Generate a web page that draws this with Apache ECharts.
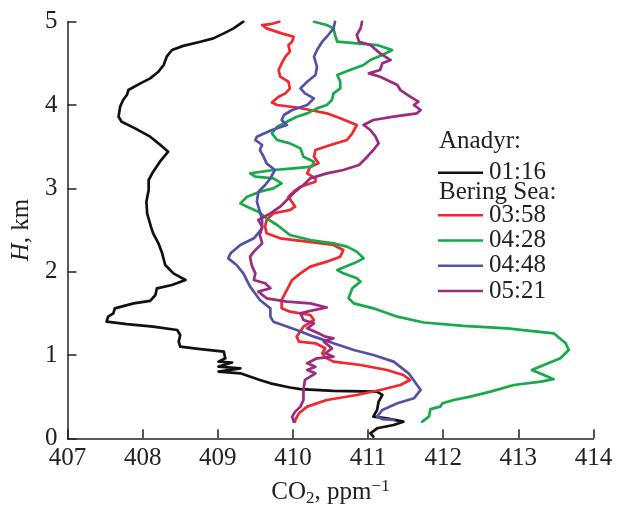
<!DOCTYPE html>
<html>
<head>
<meta charset="utf-8">
<script src="https://cdn.jsdelivr.net/npm/echarts@6/dist/echarts.min.js"></script>
<style>
  html, body { margin: 0; padding: 0; background: #fff; }
  #chart { width: 619px; height: 513px; }
</style>
</head>
<body>
<div id="chart"></div>
<script>
// CO2 vertical profiles: each point is [CO2, ppm ; height H, km]
const profile0116 = [
  [409.34,5.00],[409.21,4.92],[409.08,4.86],[408.94,4.80],[408.77,4.76],[408.54,4.71],[408.39,4.66],
  [408.32,4.58],[408.28,4.48],[408.21,4.40],[408.10,4.32],[407.97,4.26],[407.81,4.18],[407.79,4.12],
  [407.74,4.06],[407.70,3.98],[407.68,3.86],[407.72,3.80],[407.90,3.72],[408.10,3.62],[408.21,3.54],
  [408.34,3.44],[408.23,3.32],[408.14,3.20],[408.08,3.10],[408.08,2.98],[408.05,2.84],[408.06,2.70],
  [408.11,2.54],[408.14,2.46],[408.21,2.34],[408.26,2.22],[408.30,2.08],[408.41,1.98],[408.57,1.90],
  [408.39,1.84],[408.19,1.80],[408.17,1.72],[408.10,1.65],[407.88,1.62],[407.63,1.56],[407.61,1.50],
  [407.54,1.46],[407.52,1.40],[407.79,1.37],[408.14,1.34],[408.46,1.30],[408.50,1.24],[408.48,1.16],
  [408.50,1.10],[408.77,1.07],[409.08,1.04],[409.10,0.96],[409.01,0.92],[409.19,0.91],[409.01,0.86],
  [409.30,0.84],[409.01,0.80],[409.30,0.78],[409.56,0.70],[409.70,0.66],[409.96,0.61],[410.10,0.59],
  [410.54,0.57],[411.12,0.56],[411.19,0.52],[411.14,0.44],[411.12,0.34],[411.07,0.26],[411.25,0.24],
  [411.47,0.20],[411.34,0.16],[411.12,0.12],[411.03,0.06],[411.07,0.02]
];

const profile0358 = [
  [409.82,5.00],[409.70,4.97],[409.59,4.96],[409.65,4.92],[409.85,4.86],[410.01,4.82],[409.99,4.76],
  [409.94,4.72],[409.96,4.64],[409.90,4.58],[409.85,4.50],[409.81,4.42],[409.83,4.34],[409.94,4.28],
  [409.96,4.20],[409.90,4.14],[409.81,4.10],[409.72,4.03],[409.79,4.00],[410.05,3.97],[410.23,3.94],
  [410.45,3.90],[410.63,3.84],[410.85,3.76],[410.79,3.66],[410.72,3.58],[410.50,3.52],[410.30,3.46],
  [410.28,3.38],[410.34,3.30],[410.23,3.26],[410.19,3.18],[410.30,3.12],[410.30,3.08],[410.10,3.02],
  [410.01,2.96],[409.94,2.90],[410.03,2.78],[409.96,2.74],[409.74,2.70],[409.65,2.62],[409.63,2.54],
  [409.65,2.46],[409.83,2.40],[410.19,2.36],[410.54,2.32],[410.67,2.26],[410.63,2.18],[410.45,2.12],
  [410.23,2.06],[410.10,1.98],[409.99,1.90],[409.92,1.78],[409.85,1.66],[409.85,1.56],[409.96,1.52],
  [410.23,1.48],[410.28,1.42],[410.14,1.34],[410.05,1.22],[410.08,1.16],[410.30,1.14],[410.43,1.08],
  [410.39,1.02],[410.43,0.97],[410.54,0.92],[410.90,0.88],[411.25,0.82],[411.47,0.76],[411.56,0.70],
  [411.43,0.64],[411.16,0.58],[410.85,0.52],[410.45,0.46],[410.19,0.38],[410.08,0.30],[410.03,0.22],
  [410.03,0.20]
];

const profile0428 = [
  [410.28,5.00],[410.45,4.96],[410.54,4.92],[410.56,4.84],[410.59,4.76],[410.85,4.74],[411.12,4.72],
  [411.32,4.66],[411.19,4.60],[411.03,4.54],[410.94,4.48],[410.76,4.42],[410.59,4.36],[410.63,4.28],
  [410.63,4.20],[410.54,4.14],[410.52,4.06],[410.45,4.00],[410.32,3.96],[410.19,3.90],[410.05,3.86],
  [409.92,3.80],[409.79,3.74],[409.72,3.66],[409.79,3.58],[409.96,3.54],[410.10,3.48],[410.14,3.38],
  [410.28,3.32],[410.25,3.26],[410.01,3.24],[409.74,3.22],[409.43,3.18],[409.50,3.14],[409.74,3.12],
  [409.85,3.06],[409.74,3.00],[409.56,2.96],[409.39,2.90],[409.30,2.82],[409.39,2.78],[409.54,2.72],
  [409.65,2.64],[409.79,2.56],[409.96,2.44],[410.23,2.38],[410.54,2.34],[410.72,2.30],[410.85,2.24],
  [410.94,2.16],[410.81,2.10],[410.59,2.02],[410.67,1.98],[410.85,1.92],[410.90,1.88],[410.79,1.80],
  [410.74,1.68],[410.81,1.62],[411.07,1.56],[411.39,1.46],[411.74,1.39],[412.27,1.35],[412.85,1.32],
  [413.47,1.26],[413.63,1.14],[413.67,1.06],[413.56,0.96],[413.34,0.88],[413.18,0.82],[413.34,0.76],
  [413.47,0.71],[413.30,0.68],[412.94,0.64],[412.63,0.56],[412.36,0.50],[412.14,0.46],[411.99,0.42],
  [411.96,0.38],[411.83,0.35],[411.81,0.26],[411.72,0.20]
];

const profile0448 = [
  [410.56,5.00],[410.54,4.92],[410.47,4.84],[410.39,4.76],[410.32,4.66],[410.28,4.58],[410.32,4.46],
  [410.30,4.36],[410.19,4.28],[410.10,4.20],[410.16,4.14],[410.28,4.08],[410.19,4.00],[409.99,3.94],
  [409.88,3.88],[409.85,3.82],[409.92,3.76],[409.72,3.70],[409.52,3.62],[409.50,3.58],[409.59,3.52],
  [409.56,3.46],[409.61,3.38],[409.65,3.30],[409.76,3.22],[409.70,3.12],[409.63,3.04],[409.54,2.96],
  [409.52,2.84],[409.56,2.72],[409.59,2.62],[409.59,2.52],[409.48,2.40],[409.30,2.32],[409.17,2.22],
  [409.14,2.16],[409.25,2.08],[409.34,1.98],[409.43,1.82],[409.56,1.66],[409.70,1.56],[409.70,1.46],
  [409.74,1.40],[410.05,1.30],[410.28,1.22],[410.54,1.14],[410.81,1.06],[411.07,1.00],[411.34,0.92],
  [411.54,0.78],[411.70,0.58],[411.61,0.48],[411.39,0.42],[411.19,0.34],[411.12,0.26],[411.19,0.23],
  [411.34,0.22]
];

const profile0521 = [
  [410.92,5.00],[410.90,4.92],[410.85,4.84],[410.88,4.76],[411.03,4.72],[411.16,4.62],[411.30,4.54],
  [411.19,4.50],[411.16,4.42],[411.01,4.38],[411.16,4.34],[411.39,4.24],[411.43,4.18],[411.56,4.10],
  [411.67,4.04],[411.61,4.00],[411.70,3.94],[411.65,3.90],[411.34,3.86],[411.07,3.82],[410.94,3.76],
  [411.03,3.70],[411.10,3.62],[411.14,3.54],[411.07,3.46],[410.99,3.38],[410.88,3.28],[410.67,3.22],
  [410.45,3.18],[410.23,3.12],[410.14,3.04],[410.03,2.96],[409.92,2.86],[409.83,2.78],[409.70,2.70],
  [409.54,2.62],[409.59,2.54],[409.56,2.44],[409.59,2.34],[409.48,2.24],[409.43,2.18],[409.45,2.08],
  [409.50,1.98],[409.48,1.90],[409.63,1.86],[409.70,1.80],[409.54,1.76],[409.65,1.68],[409.92,1.64],
  [410.23,1.62],[410.45,1.57],[410.23,1.53],[410.10,1.50],[410.14,1.42],[410.28,1.38],[410.19,1.32],
  [410.34,1.26],[410.43,1.22],[410.54,1.20],[410.41,1.16],[410.52,1.08],[410.43,1.02],[410.54,0.98],
  [410.32,0.96],[410.19,0.90],[410.30,0.86],[410.19,0.82],[410.30,0.78],[410.16,0.70],[410.14,0.58],
  [410.14,0.46],[410.10,0.38],[410.03,0.32],[409.99,0.26],[410.01,0.20]
];

const seriesNames = ['01:16', '03:58', '04:28', '04:48', '05:21'];
const seriesColors = ['#111111', '#f2262b', '#17a94a', '#5352a8', '#9a2b7e'];
const profiles = [profile0116, profile0358, profile0428, profile0448, profile0521];
const groupTitles = ['Anadyr:', 'Bering Sea:'];

const FONT = 'Liberation Serif';
const INK = '#222222';
const chart = echarts.init(document.getElementById('chart'), null, { renderer: 'canvas' });

const legendCommon = {
  orient: 'vertical',
  left: 438,
  padding: 0,
  icon: 'rect',
  itemWidth: 45,
  itemHeight: 2.5,
  itemGap: 0,
  selectedMode: false,
  textStyle: { fontFamily: FONT, fontSize: 25, color: INK, lineHeight: 25.3, padding: [0, 0, 0, 1] }
};

chart.setOption({
  animation: false,
  backgroundColor: '#ffffff',
  grid: { left: 67.5, right: 25.5, top: 21.7, bottom: 74.7, containLabel: false },
  xAxis: {
    type: 'value', min: 407, max: 414, interval: 1,
    name: '{n|CO}{sub|2}{n|, ppm}{sup|\u22121}',
    nameLocation: 'middle', nameGap: 40,
    nameTextStyle: {
      rich: {
        n: { fontFamily: FONT, fontSize: 25, color: INK },
        sub: { fontFamily: FONT, fontSize: 17, color: INK, padding: [12, 0, 0, 0] },
        sup: { fontFamily: FONT, fontSize: 17, color: INK, padding: [0, 0, 12, 0] }
      }
    },
    axisLine: { show: true, lineStyle: { color: INK, width: 1.5 } },
    axisTick: { show: true, inside: true, length: 9, lineStyle: { color: INK, width: 1.5 } },
    axisLabel: { fontFamily: FONT, fontSize: 25, color: INK, margin: 8 },
    splitLine: { show: false }
  },
  yAxis: {
    type: 'value', min: 0, max: 5, interval: 1,
    name: '{i|H}{n|, km}',
    nameLocation: 'middle', nameGap: 31, nameRotate: 90,
    nameTextStyle: {
      rich: {
        i: { fontFamily: FONT, fontSize: 25, fontStyle: 'italic', color: INK },
        n: { fontFamily: FONT, fontSize: 25, color: INK }
      }
    },
    axisLine: { show: true, lineStyle: { color: INK, width: 1.5 } },
    axisTick: { show: true, inside: true, length: 9, lineStyle: { color: INK, width: 1.5 } },
    axisLabel: { fontFamily: FONT, fontSize: 25, color: INK, margin: 10 },
    splitLine: { show: false }
  },
  legend: [
    Object.assign({}, legendCommon, { top: 160, data: [seriesNames[0]] }),
    Object.assign({}, legendCommon, { top: 202.5, data: seriesNames.slice(1) })
  ],
  graphic: [
    { type: 'text', left: 439, top: 129, style: { text: groupTitles[0], font: '25px "Liberation Serif"', fill: INK } },
    { type: 'text', left: 439, top: 180, style: { text: groupTitles[1], font: '25px "Liberation Serif"', fill: INK } }
  ],
  series: profiles.map((p, i) => ({
    name: seriesNames[i],
    type: 'line',
    data: p,
    showSymbol: false,
    symbol: 'none',
    smooth: false,
    color: seriesColors[i],
    lineStyle: { width: 2.7, color: seriesColors[i], cap: 'round', join: 'round' },
    z: 2 + i
  }))
});
</script>
</body>
</html>
